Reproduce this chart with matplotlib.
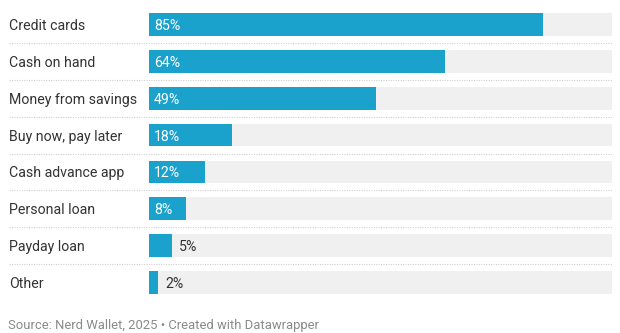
import matplotlib.pyplot as plt

plt.rcParams['font.family'] = ['Roboto', 'DejaVu Sans']

categories = ["Credit cards", "Cash on hand", "Money from savings", "Buy now, pay later",
              "Cash advance app", "Personal loan", "Payday loan", "Other"]
values = [85, 64, 49, 18, 12, 8, 5, 2]

W, H = 620, 333
fig = plt.figure(figsize=(W / 100, H / 100), dpi=100)
left, right = 149, 612
top, bottom = 6, 301
ax = fig.add_axes((left / W, 1 - bottom / H, (right - left) / W, (bottom - top) / H))

bar_color = "#1aa1cc"
ypos = list(range(len(categories)))
ax.barh(ypos, [100] * len(values), height=0.62, color="#f0f0f0", zorder=1)
ax.barh(ypos, values, height=0.62, color=bar_color, zorder=2)

ax.set_xlim(0, 100)
ax.set_ylim(len(categories) - 0.5, -0.5)
ax.axis("off")

trans = ax.get_yaxis_transform()
label_x = (9 - left) / (right - left)
for i, (cat, v) in enumerate(zip(categories, values)):
    ax.text(label_x, i, cat, transform=trans, ha="left", va="center_baseline",
            fontsize=10.2, color="#333333")
    if v >= 8:
        ax.text(1.1, i, f"{v}%", ha="left", va="center_baseline", fontsize=10.2,
                color="white", zorder=3)
    else:
        ax.text(v + 1.5, i, f"{v}%", ha="left", va="center_baseline", fontsize=10.2,
                color="#333333", zorder=3)
    if i < len(categories) - 1:
        ax.plot([label_x, 1], [i + 0.5, i + 0.5], transform=trans, clip_on=False,
                color="#d0d0d0", lw=0.8, linestyle=(0, (1, 1.2)), zorder=0)

fig.text(8 / W, 1 - 325 / H, "Source: Nerd Wallet, 2025 \u2022 Created with Datawrapper",
         ha="left", va="center", fontsize=9.4, color="#8a8a8a")

fig.savefig("out.png", dpi=100, facecolor="white")
